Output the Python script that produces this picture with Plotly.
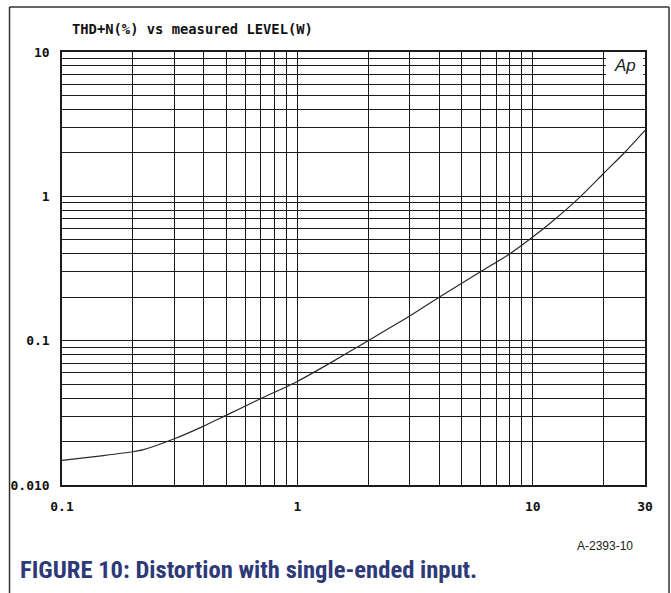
import plotly.graph_objects as go
import numpy as np

# Data
level_w = [0.1, 0.15, 0.2, 0.22, 0.3, 0.4, 0.5, 0.7, 1, 1.4, 2, 3, 4, 6, 8, 10, 12, 16, 20, 25, 30]
thdn_pct = [0.0148, 0.0160, 0.0170, 0.0175, 0.0209, 0.0256, 0.0305, 0.0397, 0.0522, 0.071, 0.10,
            0.148, 0.20, 0.30, 0.40, 0.522, 0.662, 1.0, 1.44, 2.07, 2.86]

x_major = {0.1: "0.1", 1: "1", 10: "10", 30: "30"}
y_major = {0.01: "0.010", 0.1: "0.1", 1: "1", 10: "10"}

x_grid = [m * 10.0 ** e for e in (-1, 0, 1) for m in range(1, 10)] + [20, 30]
x_grid = sorted(set(round(v, 6) for v in x_grid if v <= 30))
y_grid = [m * 10.0 ** e for e in (-2, -1, 0) for m in range(1, 10)] + [10]
y_grid = sorted(set(round(v, 6) for v in y_grid))

def lbl(v, d):
    for k, t in d.items():
        if abs(v - k) < 1e-9:
            return "<b>" + t + "</b>"
    return ""

GRID = "#1a1a1a"
mono = "DejaVu Sans Mono"

fig = go.Figure()
fig.add_trace(go.Scatter(x=level_w, y=thdn_pct, mode="lines",
                         line=dict(color="#2a2a2a", width=1.2, shape="spline", smoothing=0.6),
                         hoverinfo="skip", showlegend=False))

fig.update_xaxes(type="log", range=[-1, np.log10(30)],
                 tickvals=x_grid, ticktext=[lbl(v, x_major) for v in x_grid],
                 showgrid=True, gridcolor=GRID, gridwidth=1.3,
                 showline=True, linecolor=GRID, linewidth=1.5, mirror=True,
                 ticks="", ticklabelstandoff=9, zeroline=False,
                 tickfont=dict(family=mono, size=13, color="#111"))
fig.update_yaxes(type="log", range=[-2, 1],
                 tickvals=y_grid, ticktext=[lbl(v, y_major) for v in y_grid],
                 showgrid=True, gridcolor=GRID, gridwidth=1.3,
                 showline=True, linecolor=GRID, linewidth=1.5, mirror=True,
                 ticks="", ticklabelstandoff=8, zeroline=False,
                 tickfont=dict(family=mono, size=13, color="#111"))

shapes = [
    # Ap logo box (blank area)
    dict(type="rect", xref="paper", yref="paper", x0=0.933, x1=0.997, y0=0.937, y1=0.997,
         fillcolor="white", line=dict(width=0), layer="above"),
    # outer frame
    dict(type="line", xref="paper", yref="paper", x0=-0.09, x1=1.0412, y0=1.104, y1=1.104,
         line=dict(color="#333", width=1.5)),
    dict(type="line", xref="paper", yref="paper", x0=-0.09, x1=-0.09, y0=1.104, y1=-0.3,
         line=dict(color="#333", width=1.5)),
    dict(type="line", xref="paper", yref="paper", x0=1.0412, x1=1.0412, y0=1.104, y1=-0.3,
         line=dict(color="#333", width=1.5)),
]

annotations = [
    dict(text="<b>THD+N(%) vs measured LEVEL(W)</b>", xref="paper", yref="paper",
         x=0.223, y=1.052, xanchor="center", yanchor="middle", showarrow=False,
         font=dict(family=mono, size=13.8, color="#111")),
    dict(text="<i>Ap</i>", xref="paper", yref="paper", x=0.965, y=0.968,
         xanchor="center", yanchor="middle", showarrow=False,
         font=dict(family="Liberation Sans", size=17, color="#222")),
    dict(text="A-2393-10", xref="paper", yref="paper", x=0.983, y=-0.141,
         xanchor="right", yanchor="middle", showarrow=False,
         font=dict(family="Liberation Sans", size=12, color="#222")),
    dict(text="<b>FIGURE 10: Distortion with single-ended input.</b>", xref="paper", yref="paper",
         x=-0.0755, y=-0.196, xanchor="left", yanchor="middle", showarrow=False,
         font=dict(family="Liberation Sans Narrow, Roboto Condensed, Arial Narrow, Roboto", size=24.6,
                   color="#2e3a78")),
]

fig.update_layout(width=671, height=593, margin=dict(l=62, r=26, t=52, b=108),
                  paper_bgcolor="white", plot_bgcolor="white",
                  shapes=shapes, annotations=annotations, showlegend=False)

fig.write_html("out.html", config={"displayModeBar": False},
               post_script="document.body.style.margin='0';document.body.style.overflow='hidden';")
